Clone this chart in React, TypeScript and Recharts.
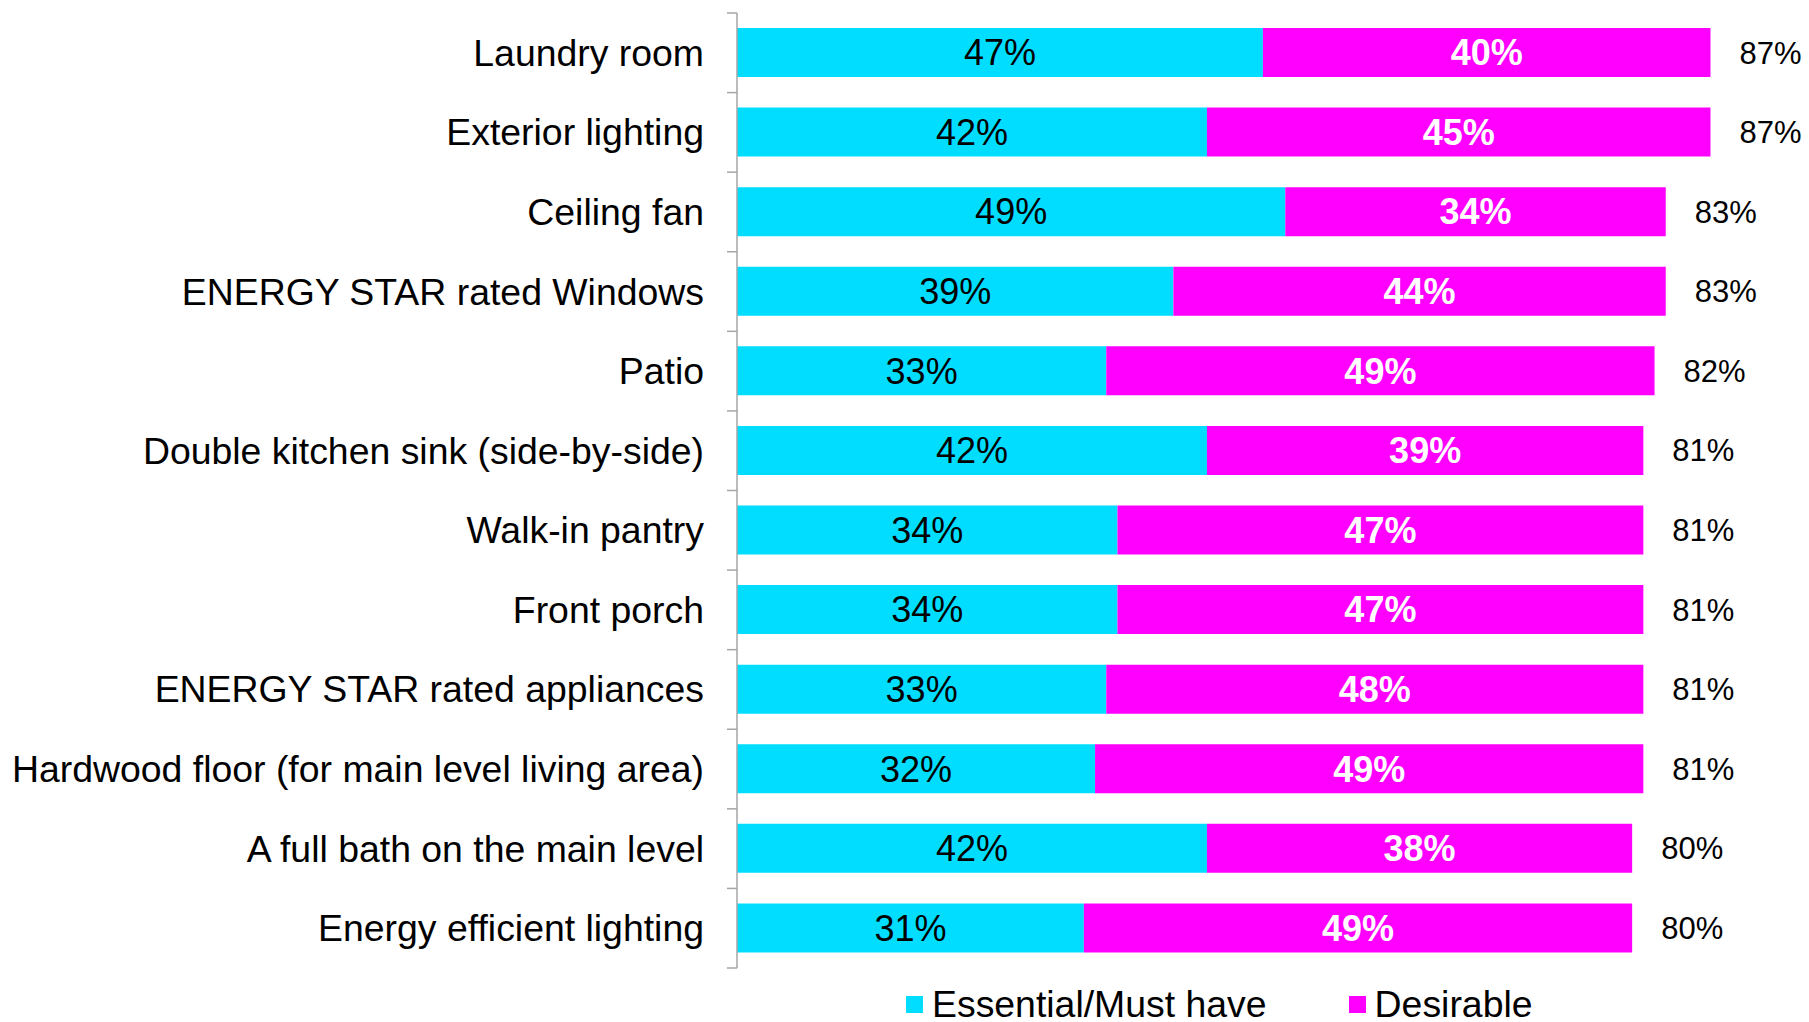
import { Bar, BarChart, LabelList, XAxis, YAxis } from "recharts";

const categories = [
  "Laundry room",
  "Exterior lighting",
  "Ceiling fan",
  "ENERGY STAR rated Windows",
  "Patio",
  "Double kitchen sink (side-by-side)",
  "Walk-in pantry",
  "Front porch",
  "ENERGY STAR rated appliances",
  "Hardwood floor (for main level living area)",
  "A full bath on the main level",
  "Energy efficient lighting",
];
const essential = [47, 42, 49, 39, 33, 42, 34, 34, 33, 32, 42, 31];
const desirable = [40, 45, 34, 44, 49, 39, 47, 47, 48, 49, 38, 49];
const totals = [87, 87, 83, 83, 82, 81, 81, 81, 81, 81, 80, 80];

const CYAN = "#00DDFF";
const MAGENTA = "#FF00FF";
const FONT = "'Liberation Sans', Arial, sans-serif";

const WIDTH = 1809;
const HEIGHT = 1022;
const AXIS_X = 737;
const PLOT_TOP = 13;
const PLOT_BOTTOM = 968;
const BAND = (PLOT_BOTTOM - PLOT_TOP) / categories.length;

const data = categories.map((name, i) => ({
  name,
  essential: essential[i],
  desirable: desirable[i],
  total: totals[i],
}));

const pct = (v: unknown) => `${v}%`;

function CategoryTick(props: any) {
  const { x, y, payload, index } = props;
  return (
    <g>
      <line x1={AXIS_X - 10} x2={AXIS_X} y1={y - BAND / 2} y2={y - BAND / 2} stroke="#a6a6a6" strokeWidth={1.5} />
      {index === categories.length - 1 && (
        <line x1={AXIS_X - 10} x2={AXIS_X} y1={y + BAND / 2} y2={y + BAND / 2} stroke="#a6a6a6" strokeWidth={1.5} />
      )}
      <text x={x} y={y} textAnchor="end" dominantBaseline="central" fontSize={37.4} fill="#000" fontFamily={FONT}>
        {payload.value}
      </text>
    </g>
  );
}

export default function App() {
  return (
    <div style={{ position: "absolute", left: 0, top: 0, width: WIDTH, height: HEIGHT, background: "#fff", fontFamily: FONT }}>
      <BarChart
        width={WIDTH}
        height={HEIGHT}
        data={data}
        layout="vertical"
        barSize={49}
        margin={{ top: PLOT_TOP, bottom: HEIGHT - PLOT_BOTTOM, left: 0, right: 9 }}
      >
        <XAxis type="number" domain={[0, 95]} hide />
        <YAxis
          type="category"
          dataKey="name"
          width={AXIS_X}
          tickSize={10}
          tickMargin={23}
          tickLine={false}
          axisLine={{ stroke: "#a6a6a6", strokeWidth: 1.5 }}
          tick={<CategoryTick />}
          interval={0}
        />
        <Bar dataKey="essential" stackId="a" fill={CYAN} isAnimationActive={false}>
          <LabelList dataKey="essential" position="center" formatter={pct} fill="#000" fontSize={36} fontFamily={FONT} />
        </Bar>
        <Bar dataKey="desirable" stackId="a" fill={MAGENTA} isAnimationActive={false}>
          <LabelList
            dataKey="desirable"
            position="center"
            formatter={pct}
            fill="#fff"
            fontSize={36}
            fontWeight="bold"
            fontFamily={FONT}
          />
          <LabelList dataKey="total" position="right" offset={29} formatter={pct} fill="#000" fontSize={31} fontFamily={FONT} />
        </Bar>
      </BarChart>
      <div
        style={{
          position: "absolute",
          left: 906,
          top: 987,
          height: 34,
          display: "flex",
          alignItems: "center",
          fontSize: 37.4,
          lineHeight: "34px",
          color: "#000",
        }}
      >
        <span style={{ width: 17, height: 17, background: CYAN, marginRight: 9 }} />
        <span>Essential/Must have</span>
        <span style={{ width: 17, height: 17, background: MAGENTA, marginLeft: 82, marginRight: 9 }} />
        <span>Desirable</span>
      </div>
    </div>
  );
}
